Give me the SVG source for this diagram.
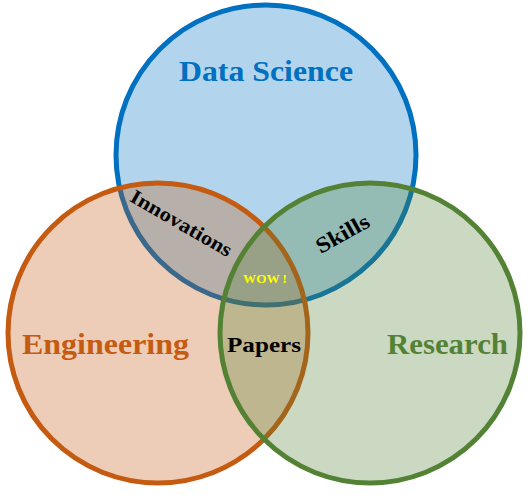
<svg xmlns="http://www.w3.org/2000/svg" width="529" height="495" viewBox="0 0 529 495">
<style>
.c{stroke-width:5}
.t{font-family:"Liberation Serif","Times New Roman",serif;font-weight:bold}
</style>
<rect width="529" height="495" fill="#ffffff"/>
<g id="data-science">
<circle class="c" cx="266" cy="155" r="150" fill="#0070C0" fill-opacity="0.3" stroke="#0070C0"/>
</g>
<g id="engineering">
<circle class="c" cx="158" cy="333" r="150" fill="#C55A11" fill-opacity="0.3" stroke="#C55A11" stroke-opacity="1"/>
</g>
<g id="research">
<circle class="c" cx="370" cy="333" r="150" fill="#548235" fill-opacity="0.3" stroke="#548235"/>
</g>
<g id="labels">
<text class="t" x="266" y="81" font-size="29" fill="#0070C0" text-anchor="middle" textLength="174" lengthAdjust="spacingAndGlyphs">Data Science</text>
<text class="t" x="22" y="354" font-size="29" fill="#C55A11" textLength="167" lengthAdjust="spacingAndGlyphs">Engineering</text>
<text class="t" x="387" y="354" font-size="29" fill="#548235" textLength="121" lengthAdjust="spacingAndGlyphs">Research</text>
<text class="t" x="227" y="352" font-size="22" fill="#000000" textLength="74" lengthAdjust="spacingAndGlyphs">Papers</text>
<text class="t" x="243" y="283" font-size="13" fill="#FFFF00" textLength="44" lengthAdjust="spacingAndGlyphs">WOW !</text>
<text class="t" transform="translate(178,229) rotate(30)" x="0" y="0" font-size="20" fill="#000000" text-anchor="middle" textLength="114" lengthAdjust="spacingAndGlyphs">Innovations</text>
<text class="t" transform="translate(346,240) rotate(-29)" x="0" y="0" font-size="22" fill="#000000" text-anchor="middle" textLength="58" lengthAdjust="spacingAndGlyphs">Skills</text>
</g>
</svg>
